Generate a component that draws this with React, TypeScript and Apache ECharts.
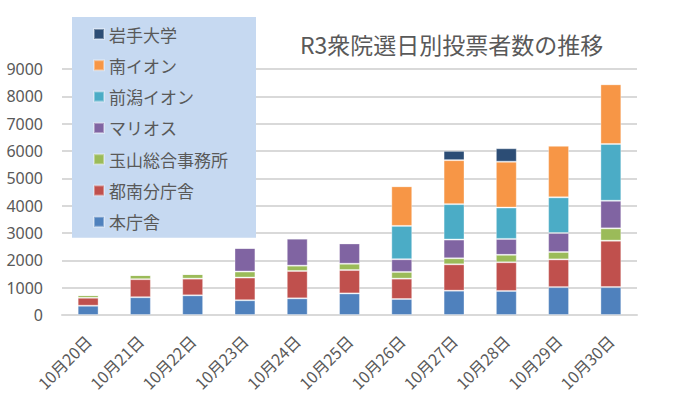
import React, { useEffect, useRef } from "react";
import * as echarts from "echarts";

const categories = ["10月20日", "10月21日", "10月22日", "10月23日", "10月24日", "10月25日", "10月26日", "10月27日", "10月28日", "10月29日", "10月30日"];
const honchousha = [340, 650, 720, 540, 610, 790, 585, 890, 880, 1020, 1020];
const tonanBunchousha = [290, 660, 610, 830, 1000, 855, 745, 965, 1050, 1015, 1700];
const tamayama = [100, 155, 170, 220, 195, 230, 245, 220, 270, 270, 450];
const marios = [0, 0, 0, 865, 990, 745, 465, 685, 585, 695, 1010];
const maezawaAeon = [0, 0, 0, 0, 0, 0, 1220, 1295, 1145, 1305, 2075];
const minamiAeon = [0, 0, 0, 0, 0, 0, 1450, 1610, 1680, 1890, 2185];
const iwateUniv = [0, 0, 0, 0, 0, 0, 0, 340, 490, 0, 0];
const yTicks = [0, 1000, 2000, 3000, 4000, 5000, 6000, 7000, 8000, 9000];

const seriesDefs = [
  { name: "本庁舎", data: honchousha, color: "#4F81BD" },
  { name: "都南分庁舎", data: tonanBunchousha, color: "#C0504D" },
  { name: "玉山総合事務所", data: tamayama, color: "#9BBB59" },
  { name: "マリオス", data: marios, color: "#8064A2" },
  { name: "前潟イオン", data: maezawaAeon, color: "#4BACC6" },
  { name: "南イオン", data: minamiAeon, color: "#F79646" },
  { name: "岩手大学", data: iwateUniv, color: "#2C4D75" },
];

const FONT = "'Noto Sans CJK JP', 'Noto Sans', sans-serif";

export default function App() {
  const ref = useRef<HTMLDivElement>(null);
  useEffect(() => {
    if (!ref.current) return;
    const chart = echarts.init(ref.current, null, { renderer: "svg" });
    chart.setOption({
      animation: false,
      backgroundColor: "#ffffff",
      textStyle: { fontFamily: FONT },
      title: {
        text: "R3衆院選日別投票者数の推移",
        left: 300,
        top: 32,
        padding: 0,
        textStyle: { fontSize: 23, fontWeight: "normal", color: "#595959", fontFamily: FONT },
      },
      legend: {
        orient: "vertical",
        left: 72,
        top: 17,
        padding: [7, 28, 6, 21],
        backgroundColor: "#C6D9F1",
        itemWidth: 10,
        itemHeight: 10,
        itemGap: 11.3,
        icon: "rect",
        data: seriesDefs.map((s) => s.name).reverse(),
        textStyle: { fontSize: 17, color: "#595959", lineHeight: 20, fontFamily: FONT },
      },
      grid: { left: 62, right: 53, top: 69, bottom: 84, containLabel: false },
      xAxis: {
        type: "category",
        data: categories,
        axisLine: { show: true, lineStyle: { color: "#D9D9D9", width: 2 } },
        axisTick: { show: false },
        axisLabel: { rotate: 45, margin: 23, fontSize: 16, color: "#595959", fontFamily: FONT },
      },
      yAxis: {
        type: "value",
        min: yTicks[0],
        max: yTicks[yTicks.length - 1],
        interval: 1000,
        axisLine: { show: false },
        axisTick: { show: false },
        splitLine: { lineStyle: { color: "#D9D9D9", width: 2 } },
        axisLabel: {
          margin: 19,
          fontSize: 16,
          color: "#595959",
          fontFamily: "'Noto Sans', sans-serif",
          formatter: (v: number) => String(v),
        },
      },
      series: seriesDefs.map((s) => ({
        name: s.name,
        type: "bar",
        stack: "total",
        barWidth: "40%",
        data: s.data,
        itemStyle: { color: s.color, borderColor: "rgba(255,255,255,0.35)", borderWidth: 1 },
      })),
    });
    return () => chart.dispose();
  }, []);
  return <div ref={ref} style={{ width: 690, height: 399, position: "absolute", left: 0, top: 0 }} />;
}
